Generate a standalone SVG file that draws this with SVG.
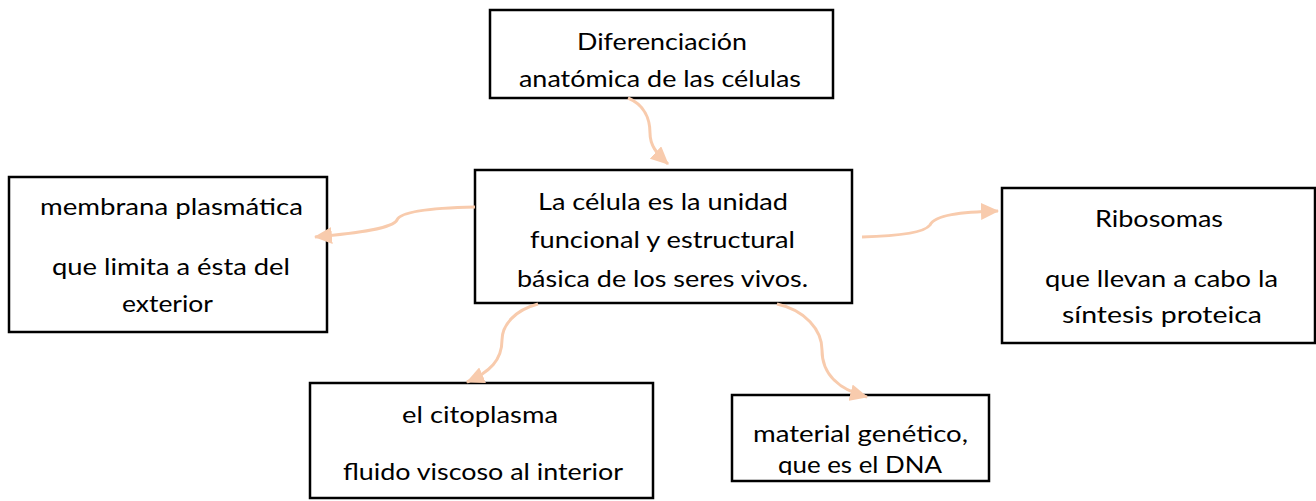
<svg xmlns="http://www.w3.org/2000/svg" width="1316" height="501" viewBox="0 0 1316 501">
<style>
.box{fill:#fff;stroke:#000;stroke-width:2.5}
.t{font-family:Lato,"Liberation Sans",sans-serif;font-size:23px;fill:#000;text-anchor:middle}
.c{fill:none;stroke:#F8CBAD;stroke-width:3}
</style>
<defs>
<marker id="ah" markerUnits="userSpaceOnUse" markerWidth="19" markerHeight="17" refX="17" refY="8.5" orient="auto">
<path d="M0,0 L18,8.5 L0,17 Z" fill="#F8CBAD"/>
</marker>
<clipPath id="clipbr"><rect x="732" y="395" width="257" height="80"/></clipPath>
</defs>
<rect width="1316" height="501" fill="#fff"/>
<g id="node-top">
<rect class="box" x="490" y="10" width="343" height="88"/>
<text class="t" x="662" y="50" textLength="170" lengthAdjust="spacingAndGlyphs">Diferenciación</text>
<text class="t" x="660" y="87" textLength="282" lengthAdjust="spacingAndGlyphs">anatómica de las células</text>
</g>
<g id="node-center">
<rect class="box" x="475" y="170" width="377" height="133"/>
<text class="t" x="663" y="210" textLength="250" lengthAdjust="spacingAndGlyphs">La célula es la unidad</text>
<text class="t" x="662.5" y="248" textLength="265" lengthAdjust="spacingAndGlyphs">funcional y estructural</text>
<text class="t" x="662.5" y="287" textLength="291" lengthAdjust="spacingAndGlyphs">básica de los seres vivos.</text>
</g>
<g id="node-left">
<rect class="box" x="9" y="177" width="318" height="155"/>
<text class="t" x="171.5" y="215" textLength="263" lengthAdjust="spacingAndGlyphs">membrana plasmática</text>
<text class="t" x="171" y="275" textLength="238" lengthAdjust="spacingAndGlyphs">que limita a ésta del</text>
<text class="t" x="167.5" y="312" textLength="91" lengthAdjust="spacingAndGlyphs">exterior</text>
</g>
<g id="node-right">
<rect class="box" x="1002" y="188" width="313" height="155"/>
<text class="t" x="1159" y="227" textLength="128" lengthAdjust="spacingAndGlyphs">Ribosomas</text>
<text class="t" x="1161.5" y="287" textLength="233" lengthAdjust="spacingAndGlyphs">que llevan a cabo la</text>
<text class="t" x="1162" y="323" textLength="200" lengthAdjust="spacingAndGlyphs">síntesis proteica</text>
</g>
<g id="node-bottom-left">
<rect class="box" x="310" y="383" width="343" height="115"/>
<text class="t" x="480" y="423" textLength="156" lengthAdjust="spacingAndGlyphs">el citoplasma</text>
<text class="t" x="483" y="480" textLength="280" lengthAdjust="spacingAndGlyphs">fluido viscoso al interior</text>
</g>
<g id="node-bottom-right">
<rect class="box" x="732" y="395" width="257" height="86"/>
<g clip-path="url(#clipbr)">
<text class="t" x="860.5" y="442" textLength="215" lengthAdjust="spacingAndGlyphs">material genético,</text>
<text class="t" x="860" y="473" textLength="164" lengthAdjust="spacingAndGlyphs">que es el DNA</text>
</g>
</g>
<g id="connectors">
<path class="c" d="M628,98 C645,105 650,120 650,133 C650,145 656,153 668,164" marker-end="url(#ah)"/>
<path class="c" d="M475,207 C430,208 400,212 397,220 C393,228 360,233 315,237" marker-end="url(#ah)"/>
<path class="c" d="M862,237 C900,236 925,232 930,225 C935,215 960,212 998,211" marker-end="url(#ah)"/>
<path class="c" d="M538,304 C515,310 502,325 502,340 C502,360 490,372 467,382" marker-end="url(#ah)"/>
<path class="c" d="M777,304 C805,310 822,330 822,350 C822,375 840,390 867,397" marker-end="url(#ah)"/>
</g>
</svg>
